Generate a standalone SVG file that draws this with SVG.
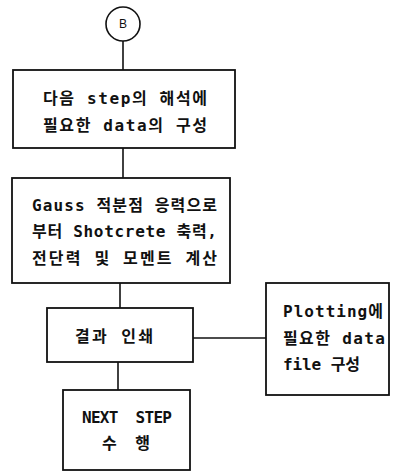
<svg xmlns="http://www.w3.org/2000/svg" width="396" height="472" viewBox="0 0 396 472">
<style>
.box{fill:#fff;stroke:#111;stroke-width:1.8}
.ln{stroke:#111;stroke-width:1.6;fill:none}
.t{font-family:"DejaVu Sans Mono","Noto Sans CJK KR",monospace;font-size:16px;font-weight:bold;fill:#111;white-space:pre}
.c{font-family:"Liberation Sans","Noto Sans CJK KR",sans-serif;font-size:12px;fill:#111;text-anchor:middle}
</style>
<rect width="396" height="472" fill="#fff"/>
<g id="connectors">
<line class="ln" x1="123" y1="41" x2="123" y2="70"/>
<line class="ln" x1="123" y1="148" x2="123" y2="178"/>
<line class="ln" x1="120" y1="283" x2="120" y2="308"/>
<line class="ln" x1="193" y1="338" x2="266" y2="338"/>
<line class="ln" x1="118" y1="362" x2="118" y2="390"/>
</g>
<g id="nodeB">
<circle cx="123" cy="24" r="17" fill="#fff" stroke="#111" stroke-width="1.6"/>
<text class="c" x="123" y="28">B</text>
</g>
<g id="node1">
<rect class="box" x="13" y="70" width="222" height="78"/>
<text class="t" x="43" y="104" textLength="164" lengthAdjust="spacing">다음 step의 해석에</text>
<text class="t" x="43" y="131" textLength="164" lengthAdjust="spacing">필요한 data의 구성</text>
</g>
<g id="node2">
<rect class="box" x="12" y="178" width="218" height="105"/>
<text class="t" x="32" y="211" textLength="185" lengthAdjust="spacing">Gauss 적분점 응력으로</text>
<text class="t" x="32" y="237" textLength="185" lengthAdjust="spacing">부터 Shotcrete 축력,</text>
<text class="t" x="32" y="264" textLength="185" lengthAdjust="spacing">전단력 및 모멘트 계산</text>
</g>
<g id="node3">
<rect class="box" x="47" y="308" width="146" height="54"/>
<text class="t" x="75" y="342" textLength="78" lengthAdjust="spacing">결과 인쇄</text>
</g>
<g id="node4">
<rect class="box" x="266" y="283" width="123" height="112"/>
<text class="t" x="283" y="317" textLength="100" lengthAdjust="spacing">Plotting에</text>
<text class="t" x="283" y="344" textLength="102" lengthAdjust="spacing">필요한 data</text>
<text class="t" x="283" y="370" textLength="77" lengthAdjust="spacing">file 구성</text>
</g>
<g id="node5">
<rect class="box" x="63" y="390" width="127" height="80"/>
<text class="t" x="82" y="423" textLength="90" lengthAdjust="spacing" xml:space="preserve">NEXT  STEP</text>
<text class="t" x="102" y="449" textLength="48" lengthAdjust="spacing" xml:space="preserve">수  행</text>
</g>
</svg>
